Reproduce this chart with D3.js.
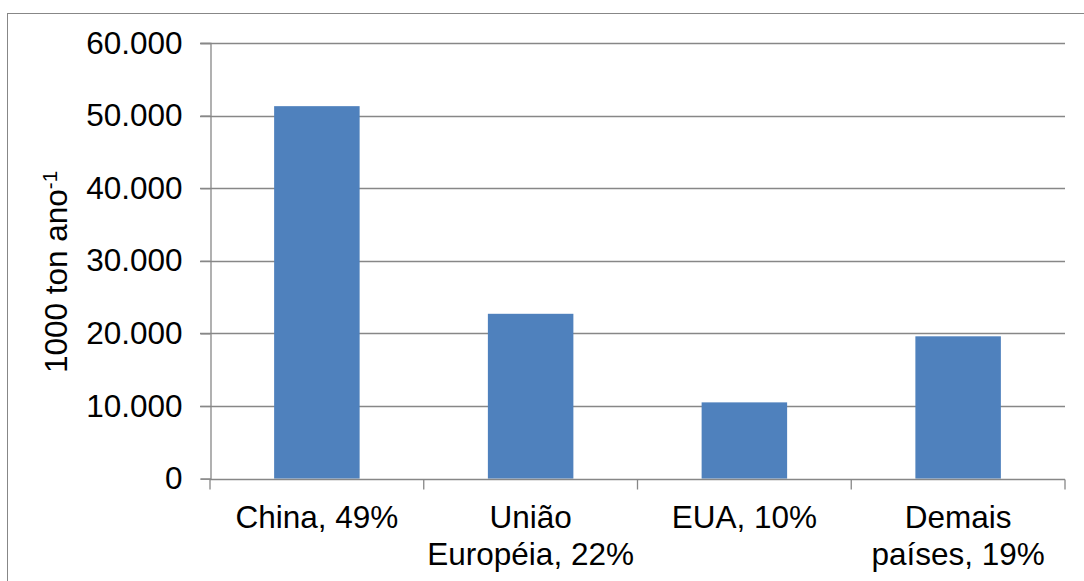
<!DOCTYPE html>
<html>
<head>
<meta charset="utf-8">
<script src="https://cdn.jsdelivr.net/npm/d3@7"></script>
<style>
  html, body { margin: 0; padding: 0; background: #fff; }
  svg { display: block; }
  text { font-family: "Liberation Sans", Arial, sans-serif; fill: #000; }
</style>
</head>
<body>
<svg id="chart" width="1084" height="581"></svg>
<script>
// ---- data ----
const categories = ["China, 49%", "União\nEuropéia, 22%", "EUA, 10%", "Demais\npaíses, 19%"];
const values = [51300, 22700, 10500, 19600];
const yTicks = [0, 10000, 20000, 30000, 40000, 50000, 60000];
const yTitle = "1000 ton ano";
const yTitleSup = "-1";

// ---- layout ----
const W = 1084, H = 581;
const plot = { left: 210, right: 1065, top: 43, bottom: 478.6 };
const fontSize = 31.5;
const gridColor = "#878787";
const barColor = "#4F81BD";

const svg = d3.select("#chart");

// outer chart border (right/bottom edges fall outside the frame)
svg.append("rect")
  .attr("x", 7.5).attr("y", 13.5)
  .attr("width", 1200).attr("height", 700)
  .attr("fill", "none").attr("stroke", gridColor).attr("stroke-width", 1);

const x = d3.scaleBand().domain(categories).range([plot.left, plot.right]).paddingInner(0.6).paddingOuter(0.3);
const xOuter = d3.scaleBand().domain(categories).range([plot.left, plot.right]);
const y = d3.scaleLinear().domain([0, 60000]).range([plot.bottom, plot.top]);

const pt = d3.formatLocale({ decimal: ",", thousands: ".", grouping: [3], currency: ["R$", ""] });
const fmt = pt.format(",d");

// gridlines
svg.append("g").selectAll("line").data(yTicks.filter(d => d > 0)).join("line")
  .attr("x1", plot.left - 10).attr("x2", plot.right)
  .attr("y1", d => Math.round(y(d)) + 0.5).attr("y2", d => Math.round(y(d)) + 0.5)
  .attr("stroke", gridColor).attr("stroke-width", 1.3);

// y axis
const yAxis = svg.append("g").attr("transform", `translate(${plot.left + 0.5},0)`)
  .call(d3.axisLeft(y).tickValues(yTicks).tickFormat(fmt).tickSize(10).tickPadding(18));
yAxis.select(".domain").attr("stroke", gridColor).attr("stroke-width", 1.3);
yAxis.selectAll(".tick line").attr("stroke", gridColor).attr("stroke-width", 1.3);
yAxis.selectAll(".tick text").attr("font-size", fontSize).attr("font-family", "Liberation Sans, Arial, sans-serif").attr("fill", "#000");

// bars
svg.append("g").selectAll("rect").data(values).join("rect")
  .attr("x", (d, i) => x(categories[i]))
  .attr("width", x.bandwidth())
  .attr("y", d => y(d))
  .attr("height", d => y(0) - y(d))
  .attr("fill", barColor);

// x axis
const xAxisG = svg.append("g").attr("transform", `translate(0,${Math.round(plot.bottom) + 0.5})`);
xAxisG.append("line").attr("x1", plot.left).attr("x2", plot.right)
  .attr("stroke", gridColor).attr("stroke-width", 1.3);
const boundaries = [plot.left].concat(categories.map(c => xOuter(c) + xOuter.bandwidth()));
xAxisG.selectAll("line.tick").data(boundaries).join("line").attr("class", "tick")
  .attr("x1", d => d).attr("x2", d => d).attr("y1", 0).attr("y2", 10)
  .attr("stroke", gridColor).attr("stroke-width", 1.3);

// x labels
const xl = svg.append("g").selectAll("text").data(categories).join("text")
  .attr("text-anchor", "middle")
  .attr("font-size", fontSize)
  .attr("x", d => xOuter(d) + xOuter.bandwidth() / 2)
  .attr("y", 528);
xl.each(function(d) {
  const lines = d.split("\n");
  const t = d3.select(this);
  lines.forEach((ln, i) => {
    t.append("tspan").attr("x", xOuter(d) + xOuter.bandwidth() / 2)
      .attr("dy", i === 0 ? 0 : 37).text(ln);
  });
});

// y title
const yt = svg.append("text")
  .attr("transform", `translate(67,272) rotate(-90)`)
  .attr("text-anchor", "middle")
  .attr("font-size", fontSize);
yt.append("tspan").text(yTitle);
yt.append("tspan").attr("font-size", 20.5).attr("dy", -10).text(yTitleSup);
</script>
</body>
</html>
